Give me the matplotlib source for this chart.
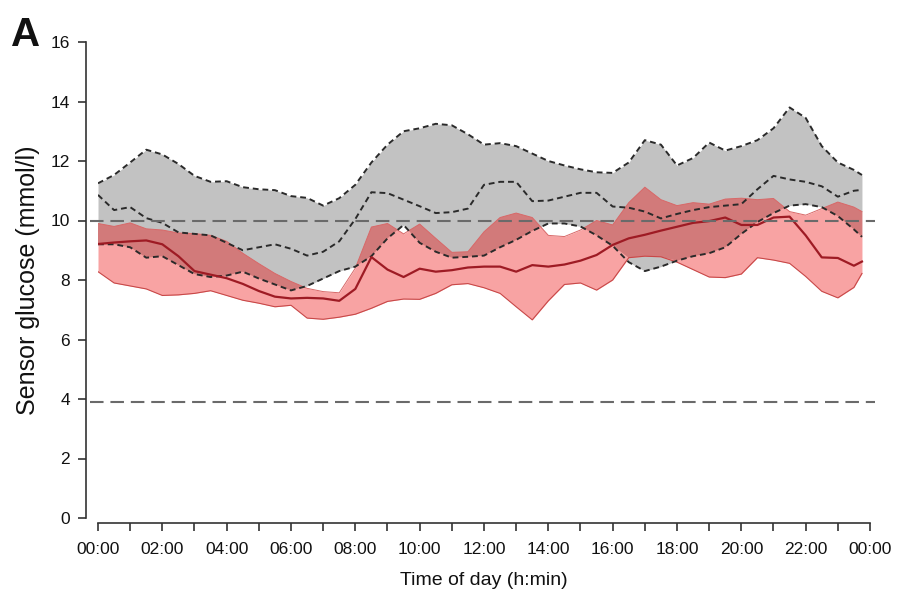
import numpy as np
import matplotlib.pyplot as plt

plt.rcParams['font.family'] = ['Liberation Sans', 'DejaVu Sans']

# half-hour grid, last sample at 23:45
hours = np.append(np.arange(0, 23.6, 0.5), 23.75)

# group 2 (grey band): upper quartile, median, lower quartile
grey_upper = [11.25, 11.53, 11.95, 12.38, 12.22, 11.9, 11.5, 11.3, 11.32, 11.12,
              11.05, 11.02, 10.82, 10.76, 10.5, 10.75, 11.2, 11.95, 12.55, 13.0,
              13.1, 13.25, 13.2, 12.9, 12.55, 12.6, 12.5, 12.25, 12.0, 11.85,
              11.72, 11.62, 11.6, 11.95, 12.7, 12.55, 11.85, 12.1, 12.62, 12.35,
              12.5, 12.7, 13.1, 13.8, 13.45, 12.5, 11.95, 11.7, 11.53]
grey_median = [10.86, 10.35, 10.45, 10.08, 9.92, 9.6, 9.55, 9.5, 9.25, 9.0,
               9.1, 9.2, 9.05, 8.82, 8.95, 9.3, 10.05, 10.95, 10.92, 10.7,
               10.48, 10.25, 10.28, 10.4, 11.2, 11.3, 11.3, 10.65, 10.67, 10.8,
               10.93, 10.93, 10.47, 10.43, 10.3, 10.07, 10.22, 10.35, 10.45, 10.5,
               10.55, 11.05, 11.5, 11.38, 11.3, 11.15, 10.8, 11.0, 11.03]
grey_lower = [9.2, 9.2, 9.1, 8.75, 8.8, 8.5, 8.2, 8.1, 8.15, 8.28,
              8.05, 7.85, 7.65, 7.8, 8.05, 8.3, 8.45, 8.8, 9.4, 9.85,
              9.25, 8.95, 8.75, 8.78, 8.82, 9.1, 9.35, 9.65, 9.9, 9.9,
              9.8, 9.5, 9.15, 8.6, 8.3, 8.45, 8.65, 8.8, 8.9, 9.1,
              9.55, 9.95, 10.25, 10.5, 10.55, 10.45, 10.15, 9.7, 9.45]

# group 1 (red band): upper quartile, median, lower quartile
red_upper = [9.9, 9.8, 9.92, 9.72, 9.68, 9.58, 9.56, 9.5, 9.3, 8.9,
             8.55, 8.22, 7.95, 7.72, 7.61, 7.57, 8.4, 9.78, 9.9, 9.55,
             9.88, 9.4, 8.93, 8.95, 9.62, 10.1, 10.25, 10.1, 9.5, 9.46,
             9.68, 10.0, 9.85, 10.6, 11.12, 10.7, 10.5, 10.6, 10.55, 10.72,
             10.75, 10.7, 10.74, 10.3, 10.18, 10.4, 10.62, 10.45, 10.3]
red_median = [9.21, 9.26, 9.3, 9.33, 9.2, 8.8, 8.3, 8.18, 8.06, 7.87,
              7.63, 7.44, 7.38, 7.4, 7.38, 7.3, 7.7, 8.77, 8.35, 8.1,
              8.38, 8.28, 8.33, 8.42, 8.45, 8.45, 8.28, 8.5, 8.45, 8.52,
              8.65, 8.84, 9.18, 9.4, 9.52, 9.66, 9.79, 9.92, 9.98, 10.1,
              9.85, 9.85, 10.1, 10.13, 9.5, 8.76, 8.74, 8.48, 8.62]
red_lower = [8.28, 7.9, 7.8, 7.7, 7.48, 7.5, 7.55, 7.64, 7.48, 7.32,
             7.22, 7.1, 7.15, 6.72, 6.68, 6.75, 6.85, 7.05, 7.28, 7.36,
             7.35, 7.55, 7.84, 7.88, 7.74, 7.55, 7.1, 6.66, 7.3, 7.85,
             7.9, 7.66, 8.0, 8.75, 8.8, 8.78, 8.6, 8.35, 8.1, 8.08,
             8.2, 8.75, 8.67, 8.56, 8.12, 7.62, 7.4, 7.75, 8.22]

target_high = 10.0
target_low = 3.9

xtick_hours = np.arange(0, 25, 2)
xtick_labels = ['%02d:00' % (h % 24) for h in xtick_hours]
ytick_vals = np.arange(0, 17, 2)

fig = plt.figure(figsize=(9.04, 5.96), dpi=100)
ax = fig.add_axes([98 / 904, 78 / 596, 772 / 904, 476 / 596])

gu, gm, gl = np.array(grey_upper), np.array(grey_median), np.array(grey_lower)
ru, rm, rl = np.array(red_upper), np.array(red_median), np.array(red_lower)

## bands
ax.fill_between(hours, gl, gu, color='#c2c2c2', lw=0, zorder=1)
ax.fill_between(hours, rl, ru, color='#f8a3a3', lw=0, zorder=2)
lo = np.maximum(gl, rl)
hi = np.minimum(gu, ru)
ax.fill_between(hours, lo, hi, where=hi > lo, interpolate=True,
                color='#d27a7a', lw=0, zorder=3)
ax.plot(hours, ru, color='#d86868', lw=0.7, zorder=4)
ax.plot(hours, rl, color='#c84848', lw=0.8, zorder=4)

## grey quartile / median lines
for s in (gu, gm, gl):
    ax.plot(hours, s, color='#2a2a2a', lw=1.4, dashes=(3, 2), zorder=5)

ax.plot(hours, rm, color='#9e1b24', lw=1.6, zorder=6)

## target range lines
for v in (target_high, target_low):
    ax.plot([-0.25, 24.15], [v, v], color='#6a6a6a', lw=1.5,
            dashes=(6.5, 3.3), zorder=7, clip_on=False)

ax.set_xlim(0, 24)
ax.set_ylim(0, 16)
ax.set_xticks(xtick_hours)
ax.set_xticklabels(xtick_labels)
ax.set_xticks(np.arange(1, 24, 2), minor=True)
ax.set_yticks(ytick_vals)

for side in ('top', 'right'):
    ax.spines[side].set_visible(False)
ax.spines['left'].set_position(('outward', 8.6))
ax.spines['bottom'].set_position(('outward', 3.6))
for side in ('left', 'bottom'):
    ax.spines[side].set_color('#333333')
    ax.spines[side].set_linewidth(1.2)
ax.tick_params(axis='both', which='both', direction='out', color='#333333',
               width=1.2, length=5.5, labelsize=12.5, labelcolor='#111111')
ax.tick_params(axis='x', which='both', pad=8)
ax.tick_params(axis='y', pad=6)

ax.set_xlabel('Time of day (h:min)', fontsize=14, color='#111111', labelpad=11)
ax.set_ylabel('Sensor glucose (mmol/l)', fontsize=18, color='#111111', labelpad=8)

fig.text(11 / 904, 1 - 46 / 596, 'A', fontsize=29, fontweight='bold',
         color='#111111', ha='left', va='baseline')

fig.savefig('out.png', dpi=100)
